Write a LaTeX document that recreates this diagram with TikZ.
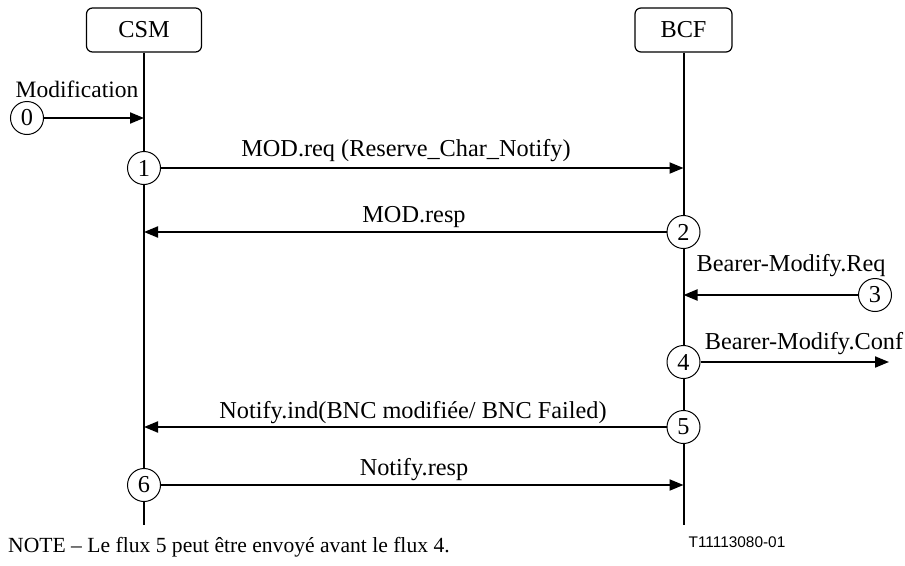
\documentclass[tikz,border=0pt]{standalone}
\usepackage{fontspec}
\setmainfont{Liberation Serif}
\newfontfamily\refsans{Liberation Sans}
\usetikzlibrary{arrows.meta}

\begin{document}
\begin{tikzpicture}[x=1pt,y=-1pt,
  font=\fontsize{24.3}{28}\selectfont,
  entity/.style={draw, line width=1.2pt, rounded corners=6pt, minimum width=115pt, minimum height=44pt, inner sep=0pt},
  lifeline/.style={line width=2pt},
  stepnum/.style={draw, circle, line width=1pt, fill=white, minimum size=33pt, inner sep=0pt},
  msg/.style={line width=2pt, -{Triangle[length=14pt,width=11pt]}},
  msglabel/.style={anchor=base, inner sep=0pt}
]
\useasboundingbox (0,0) rectangle (905,565);

% entities and their lifelines
\node[entity] (csm) at (144,30) {CSM};
\node[entity, minimum width=97pt] (bcf) at (683.5,30) {BCF};
\coordinate (csmEnd) at (144,525);
\coordinate (bcfEnd) at (683.5,525);
\draw[lifeline] (csm.south) -- (csmEnd);
\draw[lifeline] (bcf.south) -- (bcfEnd);

% points where the messages meet the lifelines
\coordinate (a0) at (144,118);
\coordinate (a1) at (683.5,168);
\coordinate (a2) at (144,232);
\coordinate (a3) at (683.5,295);
\coordinate (a4) at (889,362);
\coordinate (a5) at (144,427);
\coordinate (a6) at (683.5,485);

% numbered steps
\node[stepnum] (c0) at (27,118) {0};
\node[stepnum] (c1) at (144,168) {1};
\node[stepnum] (c2) at (683.5,232) {2};
\node[stepnum] (c3) at (875,295) {3};
\node[stepnum] (c4) at (683.5,362) {4};
\node[stepnum] (c5) at (683.5,427) {5};
\node[stepnum] (c6) at (144,485) {6};

% messages
\draw[msg] (c0) -- (a0);
\draw[msg] (c1) -- (a1);
\draw[msg] (c2) -- (a2);
\draw[msg] (c3) -- (a3);
\draw[msg] (c4) -- (a4);
\draw[msg] (c5) -- (a5);
\draw[msg] (c6) -- (a6);

% message labels
\node[msglabel, font=\fontsize{23.5}{28}\selectfont] (l0) at (77,97) {Modification};
\node[msglabel] (l1) at (406,156) {MOD.req (Reserve\_Char\_Notify)};
\node[msglabel] (l2) at (414,222) {MOD.resp};
\node[msglabel] (l3) at (791,271) {Bearer-Modify.Req};
\node[msglabel] (l4) at (804,349) {Bearer-Modify.Conf};
\node[msglabel] (l5) at (413,418) {Notify.ind(BNC modifiée/ BNC Failed)};
\node[msglabel] (l6) at (414,475) {Notify.resp};

% footnote and figure reference
\node[anchor=base west, inner sep=0pt, font=\fontsize{21.6}{26}\selectfont] (note) at (8,552) {NOTE – Le flux 5 peut être envoyé avant le flux 4.};
\node[anchor=base, inner sep=0pt, font=\refsans\fontsize{15.4}{18}\selectfont] (ref) at (737,547) {T11113080-01};
\end{tikzpicture}
\end{document}
